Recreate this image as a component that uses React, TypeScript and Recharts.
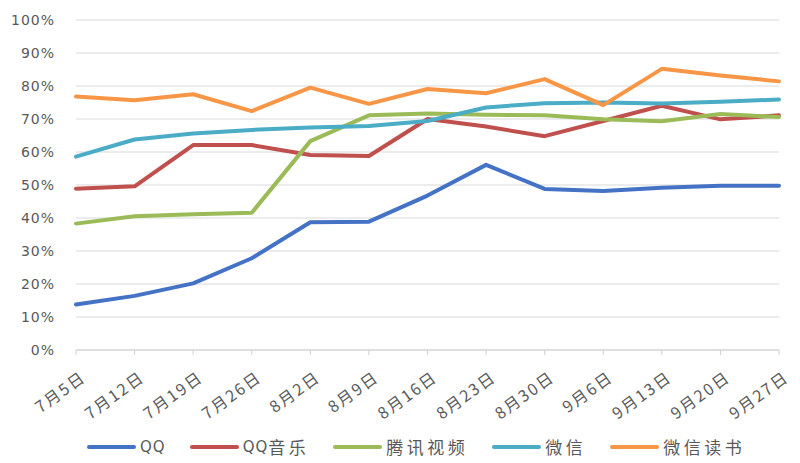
import React from "react";
import { LineChart, Line, XAxis, YAxis, CartesianGrid, Legend } from "recharts";

const dates = ["7月5日", "7月12日", "7月19日", "7月26日", "8月2日", "8月9日", "8月16日", "8月23日", "8月30日", "9月6日", "9月13日", "9月20日", "9月27日"];
const qq = [13.8, 16.4, 20.2, 27.8, 38.7, 38.9, 46.8, 56.1, 48.8, 48.2, 49.2, 49.8, 49.8];
const qqMusic = [48.9, 49.6, 62.1, 62.1, 59.1, 58.8, 70.0, 67.7, 64.8, 69.4, 74.0, 69.9, 71.1];
const tencentVideo = [38.3, 40.5, 41.1, 41.6, 63.3, 71.1, 71.7, 71.3, 71.1, 69.9, 69.3, 71.5, 70.6];
const wechat = [58.6, 63.8, 65.6, 66.7, 67.4, 67.9, 69.4, 73.5, 74.8, 75.0, 74.7, 75.2, 75.9];
const wechatRead = [76.8, 75.7, 77.5, 72.4, 79.5, 74.6, 79.1, 77.8, 82.1, 74.2, 85.2, 83.2, 81.4];
const yTicks = [0, 10, 20, 30, 40, 50, 60, 70, 80, 90, 100];

const seriesNames = ["QQ", "QQ音乐", "腾讯视频", "微信", "微信读书"];
const seriesColors = ["#4472C4", "#C0504D", "#9BBB59", "#4BACC6", "#F79646"];
const seriesValues = [qq, qqMusic, tencentVideo, wechat, wechatRead];

const data = dates.map((d, i) => {
  const row: Record<string, any> = { date: d };
  seriesNames.forEach((n, k) => {
    row[n] = seriesValues[k][i];
  });
  return row;
});

const FONT = "'DejaVu Sans', 'Noto Sans CJK SC', sans-serif";
const CJK = "'Noto Sans CJK SC', sans-serif";
const TEXT = "#595959";

const XTick = (props: any) => {
  const { x, y, payload } = props;
  const ax = x + 7;
  const ay = y + 19;
  return (
    <text
      x={ax}
      y={ay}
      transform={`rotate(-36 ${ax} ${ay})`}
      textAnchor="end"
      dominantBaseline="central"
      fontSize={16}
      letterSpacing={2}
      fill={TEXT}
      fontFamily={CJK}
    >
      {payload.value}
    </text>
  );
};

const splitRuns = (s: string) => s.match(/[A-Za-z0-9]+|[^A-Za-z0-9]+/g) || [];

const LegendContent = () => (
  <div
    style={{
      display: "flex",
      alignItems: "center",
      paddingLeft: 87,
      height: 33,
      color: TEXT,
      whiteSpace: "nowrap",
    }}
  >
    {seriesNames.map((n, k) => (
      <div key={n} style={{ display: "flex", alignItems: "center", marginRight: 24 }}>
        <div style={{ width: 49, height: 4, borderRadius: 2, background: seriesColors[k], marginRight: 4 }} />
        {splitRuns(n).map((run, j) =>
          /[A-Za-z0-9]/.test(run) ? (
            <span key={j} style={{ fontFamily: FONT, fontSize: 15, letterSpacing: 1 }}>{run}</span>
          ) : (
            <span key={j} style={{ fontFamily: CJK, fontSize: 17, letterSpacing: 3.5 }}>{run}</span>
          )
        )}
      </div>
    ))}
  </div>
);

export default function App() {
  return (
    <div style={{ position: "absolute", left: 0, top: 0, width: 800, height: 463, background: "#fff" }}>
      <LineChart width={800} height={463} data={data} margin={{ top: 20, right: 21, left: 0, bottom: 0 }}>
        <CartesianGrid vertical={false} stroke="#d9d9d9" strokeWidth={1} />
        <XAxis
          dataKey="date"
          height={80}
          interval={0}
          tick={<XTick />}
          tickSize={5}
          tickMargin={0}
          axisLine={{ stroke: "#d0d0d0" }}
          tickLine={{ stroke: "#d0d0d0" }}
        />
        <YAxis
          width={76}
          domain={[0, 100]}
          ticks={yTicks}
          interval={0}
          tickFormatter={(v: number) => `${v}%`}
          axisLine={false}
          tickLine={false}
          tickSize={0}
          tickMargin={21}
          tick={{ fill: TEXT, fontSize: 14, fontFamily: FONT, letterSpacing: 1 }}
        />
        <Legend verticalAlign="bottom" content={<LegendContent />} wrapperStyle={{ height: 33 }} />
        {seriesNames.map((n, k) => (
          <Line
            key={n}
            type="linear"
            dataKey={n}
            stroke={seriesColors[k]}
            strokeWidth={4}
            dot={false}
            activeDot={false}
            strokeLinecap="round"
            strokeLinejoin="round"
            isAnimationActive={false}
          />
        ))}
      </LineChart>
    </div>
  );
}
